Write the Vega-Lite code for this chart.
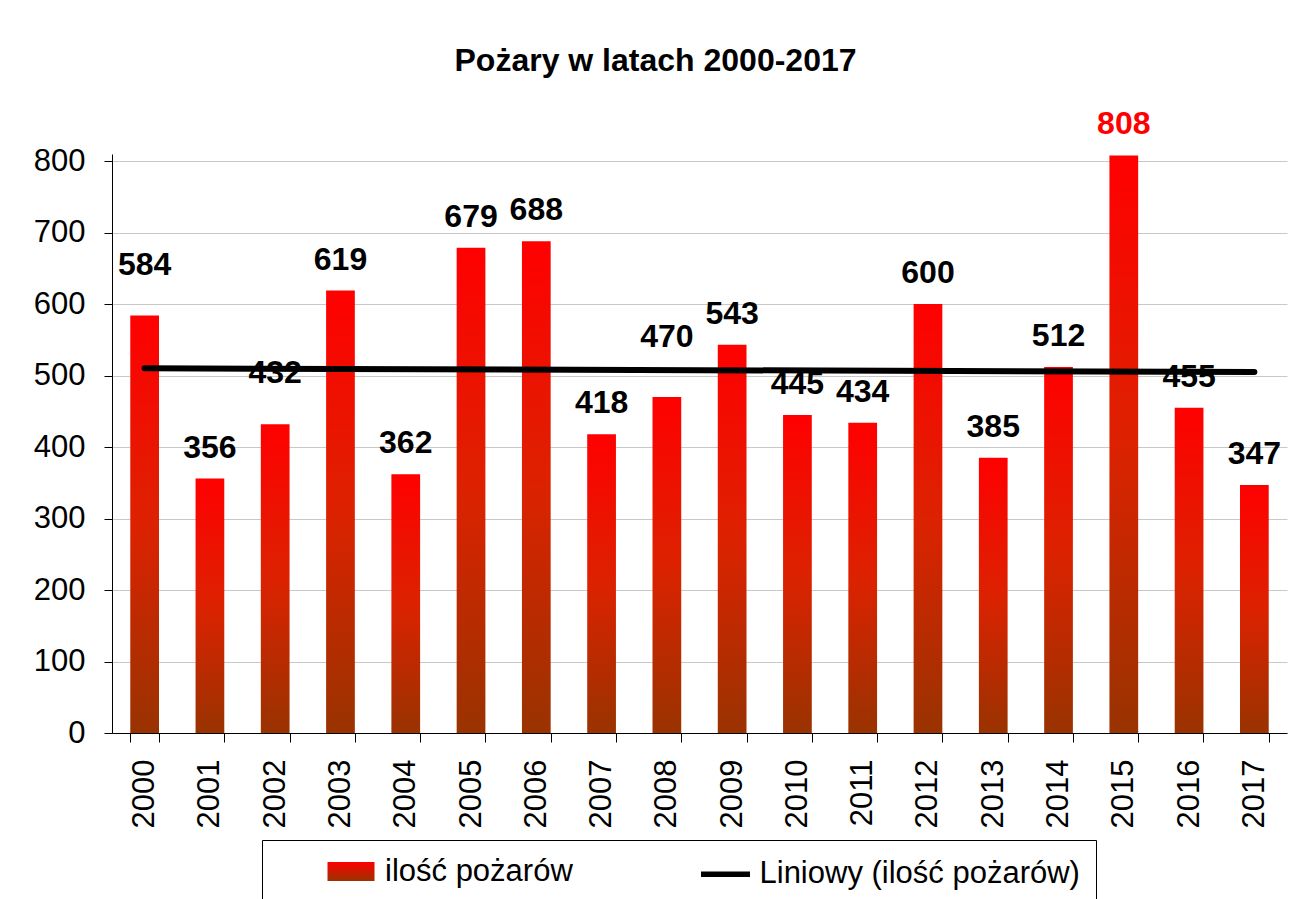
{
  "$schema": "https://vega.github.io/schema/vega-lite/v6.json",
  "width": 1175,
  "height": 579,
  "autosize": {"type": "none"},
  "padding": {"left": 112, "top": 154, "right": 10, "bottom": 166},
  "background": "white",
  "title": {
    "text": "Pożary w latach 2000-2017",
    "font": "Liberation Sans",
    "fontSize": 32,
    "fontWeight": "bold",
    "color": "black",
    "anchor": "middle",
    "frame": "group",
    "baseline": "alphabetic",
    "dx": -44,
    "offset": 5
  },
  "datasets": {
    "fires": [
      {"year": "2000", "count": 584, "series": "ilość pożarów"},
      {"year": "2001", "count": 356, "series": "ilość pożarów"},
      {"year": "2002", "count": 432, "series": "ilość pożarów"},
      {"year": "2003", "count": 619, "series": "ilość pożarów"},
      {"year": "2004", "count": 362, "series": "ilość pożarów"},
      {"year": "2005", "count": 679, "series": "ilość pożarów"},
      {"year": "2006", "count": 688, "series": "ilość pożarów"},
      {"year": "2007", "count": 418, "series": "ilość pożarów"},
      {"year": "2008", "count": 470, "series": "ilość pożarów"},
      {"year": "2009", "count": 543, "series": "ilość pożarów"},
      {"year": "2010", "count": 445, "series": "ilość pożarów"},
      {"year": "2011", "count": 434, "series": "ilość pożarów"},
      {"year": "2012", "count": 600, "series": "ilość pożarów"},
      {"year": "2013", "count": 385, "series": "ilość pożarów"},
      {"year": "2014", "count": 512, "series": "ilość pożarów"},
      {"year": "2015", "count": 808, "series": "ilość pożarów"},
      {"year": "2016", "count": 455, "series": "ilość pożarów"},
      {"year": "2017", "count": 347, "series": "ilość pożarów"}
    ],
    "trend": [
      {"year": "2000", "count": 510.2, "series": "Liniowy (ilość pożarów)"},
      {"year": "2017", "count": 505.0, "series": "Liniowy (ilość pożarów)"}
    ]
  },
  "encoding": {
    "x": {
      "field": "year",
      "type": "ordinal",
      "scale": {"paddingInner": 0.56, "paddingOuter": 0.28},
      "axis": {
        "title": null,
        "labelAngle": -90,
        "tickBand": "extent",
        "grid": false,
        "domainColor": "black",
        "tickColor": "black",
        "tickSize": 9,
        "labelFont": "Liberation Sans",
        "labelFontSize": 31,
        "labelColor": "black",
        "labelPadding": 17
      }
    },
    "y": {
      "field": "count",
      "type": "quantitative",
      "scale": {"domain": [0, 810], "nice": false},
      "axis": {
        "title": null,
        "values": [0, 100, 200, 300, 400, 500, 600, 700, 800],
        "grid": true,
        "gridColor": "#c8c8c8",
        "domainColor": "black",
        "tickColor": "black",
        "tickSize": 8,
        "labelFont": "Liberation Sans",
        "labelFontSize": 31,
        "labelColor": "black",
        "labelPadding": 19
      }
    }
  },
  "layer": [
    {
      "data": {"name": "fires"},
      "mark": {
        "type": "bar",
        "color": {
          "gradient": "linear",
          "x1": 0, "y1": 0, "x2": 0, "y2": 1,
          "stops": [
            {"offset": 0, "color": "#ff0000"},
            {"offset": 0.5, "color": "#dc2200"},
            {"offset": 1, "color": "#993300"}
          ]
        }
      },
      "encoding": {
        "opacity": {
          "field": "series",
          "type": "ordinal",
          "scale": {"domain": ["ilość pożarów", "Liniowy (ilość pożarów)"], "range": [1, 1]},
          "legend": {
            "title": null,
            "orient": "none",
            "legendX": 150,
            "legendY": 686,
            "direction": "horizontal",
            "columns": 2,
            "strokeColor": "black",
            "padding": 16,
            "symbolSize": 400,
            "symbolOffset": 57.5,
            "labelOffset": 18.5,
            "columnPadding": 79.5,
            "labelFont": "Liberation Sans",
            "labelFontSize": 31,
            "labelColor": "black",
            "labelLimit": 700,
            "encoding": {
              "symbols": {
                "shape": {
                  "condition": {"test": "datum.value == 'ilość pożarów'", "value": "M-2.35,-0.95H2.35V0.95H-2.35Z"},
                  "value": "M-2.45,0H2.45"
                },
                "fill": {
                  "condition": {
                    "test": "datum.value == 'ilość pożarów'",
                    "value": {
                      "gradient": "linear",
                      "x1": 0, "y1": 0, "x2": 0, "y2": 1,
                      "stops": [
                        {"offset": 0, "color": "#ff0000"},
                        {"offset": 1, "color": "#993300"}
                      ]
                    }
                  },
                  "value": "transparent"
                },
                "stroke": {
                  "condition": {"test": "datum.value == 'ilość pożarów'", "value": "transparent"},
                  "value": "black"
                },
                "strokeWidth": {"value": 5.5},
                "opacity": {"value": 1}
              }
            }
          }
        }
      }
    },
    {
      "data": {"name": "fires"},
      "mark": {
        "type": "text",
        "font": "Liberation Sans",
        "fontSize": 32,
        "fontWeight": "bold",
        "baseline": "alphabetic",
        "align": "center",
        "dy": {"expr": "datum.year == '2008' ? -50 : (datum.year == '2000' || datum.year == '2002') ? -41 : -21"}
      },
      "encoding": {
        "text": {"field": "count", "type": "quantitative"},
        "color": {
          "condition": {"test": "datum.count >= 800", "value": "#ff0000"},
          "value": "black"
        }
      }
    },
    {
      "data": {"name": "trend"},
      "mark": {"type": "line", "color": "black", "strokeWidth": 6, "strokeCap": "round"},
      "encoding": {
        "opacity": {"field": "series", "type": "ordinal"}
      }
    }
  ],
  "config": {
    "view": {"stroke": null},
    "font": "Liberation Sans"
  }
}
